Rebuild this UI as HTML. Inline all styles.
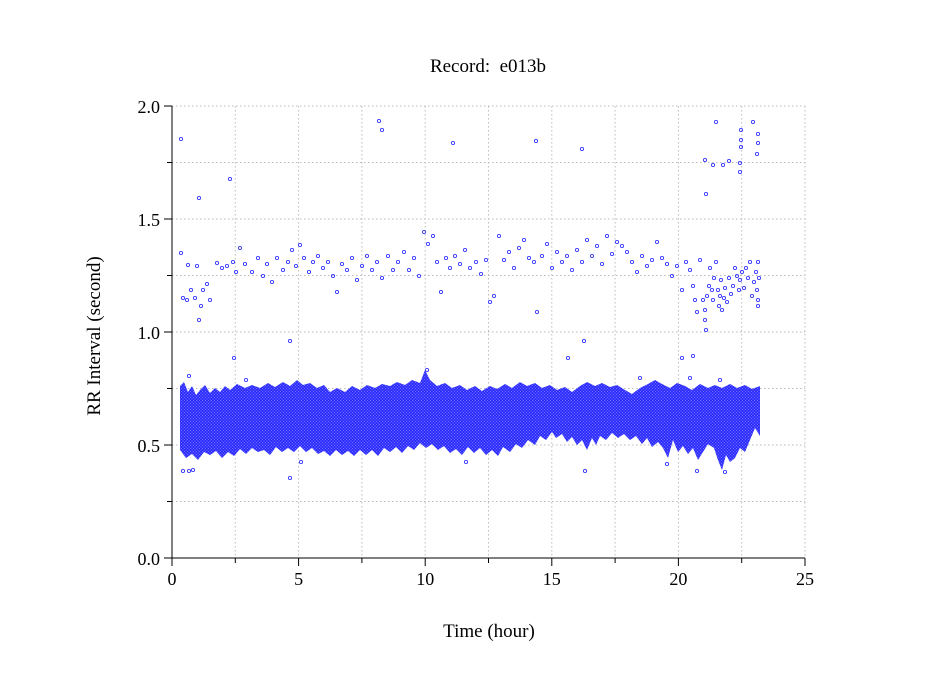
<!DOCTYPE html>
<html><head><meta charset="utf-8"><style>
html,body{margin:0;padding:0;background:#fff;}
svg{display:block;font-family:"Liberation Serif",serif;}
</style></head><body>
<svg width="949" height="697" xmlns="http://www.w3.org/2000/svg">
<defs>
<pattern id="dots" width="3" height="3" patternUnits="userSpaceOnUse">
<rect width="3" height="3" fill="#7272ff"/>
<circle cx="1.5" cy="1.5" r="1.1" fill="none" stroke="#2525ff" stroke-width="0.9"/>
</pattern>
</defs>
<rect width="949" height="697" fill="#fff"/>
<g stroke="#bbb" stroke-width="1" stroke-dasharray="1.5,2.5" fill="none">
<line x1="235.3" y1="106" x2="235.3" y2="558"/><line x1="298.6" y1="106" x2="298.6" y2="558"/>
<line x1="361.9" y1="106" x2="361.9" y2="558"/><line x1="425.2" y1="106" x2="425.2" y2="558"/>
<line x1="488.5" y1="106" x2="488.5" y2="558"/><line x1="551.8" y1="106" x2="551.8" y2="558"/>
<line x1="615.1" y1="106" x2="615.1" y2="558"/><line x1="678.4" y1="106" x2="678.4" y2="558"/>
<line x1="741.7" y1="106" x2="741.7" y2="558"/><line x1="805" y1="106" x2="805" y2="558"/>
<line x1="172" y1="106" x2="805" y2="106"/><line x1="172" y1="162.5" x2="805" y2="162.5"/>
<line x1="172" y1="219" x2="805" y2="219"/><line x1="172" y1="275.5" x2="805" y2="275.5"/>
<line x1="172" y1="332" x2="805" y2="332"/><line x1="172" y1="388.5" x2="805" y2="388.5"/>
<line x1="172" y1="445" x2="805" y2="445"/><line x1="172" y1="501.5" x2="805" y2="501.5"/>
</g>
<path fill="url(#dots)" d="M180,386 L184,382 L188,392 L192,386 L196,395 L200,390 L205,385 L210,393 L215,388 L220,392 L225,386 L230,390 L237,384 L245,388 L252,385 L260,388 L268,383 L275,387 L283,382 L290,386 L297,380 L303,385 L310,383 L317,388 L324,385 L330,392 L337,388 L345,392 L352,386 L360,390 L367,385 L375,388 L382,384 L390,386 L397,382 L405,385 L412,380 L420,383 L425,370 L430,380 L437,386 L445,383 L452,388 L460,385 L467,390 L475,386 L482,391 L490,386 L497,389 L505,384 L512,388 L520,382 L527,386 L535,383 L542,388 L550,385 L557,390 L565,387 L572,392 L580,386 L587,382 L595,386 L602,383 L610,387 L617,385 L625,390 L632,394 L640,388 L648,384 L655,380 L662,384 L670,388 L677,383 L685,386 L692,390 L700,384 L708,388 L715,385 L722,388 L730,384 L737,388 L745,385 L752,389 L760,386
L760,436 L755,428 L750,440 L745,452 L740,448 L735,458 L730,462 L726,455 L722,470 L718,460 L714,448 L708,444 L703,452 L698,460 L693,448 L688,454 L683,446 L678,452 L673,440 L668,458 L663,448 L658,442 L652,447 L647,438 L642,444 L636,436 L630,440 L624,434 L618,438 L612,433 L606,440 L600,436 L596,445 L592,438 L587,450 L582,440 L577,445 L572,437 L567,442 L562,434 L556,438 L552,432 L546,440 L540,436 L535,445 L528,440 L522,448 L516,444 L510,452 L503,447 L498,456 L492,450 L486,455 L480,448 L474,453 L468,447 L462,455 L456,449 L450,453 L444,446 L438,450 L432,444 L426,448 L420,443 L414,450 L408,446 L402,453 L396,447 L390,452 L384,448 L378,456 L372,450 L366,455 L360,450 L354,456 L348,451 L342,455 L336,450 L330,456 L324,451 L318,454 L312,448 L306,452 L300,446 L294,452 L288,448 L282,452 L276,447 L270,455 L264,450 L258,452 L252,448 L246,454 L240,449 L234,456 L228,452 L222,458 L216,451 L210,455 L204,452 L198,460 L192,454 L186,458 L180,450 Z"/>
<g fill="none" stroke="#3838ff" stroke-width="0.9">
<circle cx="181" cy="139" r="1.6"/><circle cx="199" cy="198" r="1.6"/><circle cx="230" cy="179" r="1.6"/><circle cx="379" cy="121" r="1.6"/><circle cx="382" cy="130" r="1.6"/><circle cx="453" cy="143" r="1.6"/><circle cx="536" cy="141" r="1.6"/><circle cx="582" cy="149" r="1.6"/>
<circle cx="705" cy="160" r="1.6"/><circle cx="706" cy="194" r="1.6"/><circle cx="716" cy="122" r="1.6"/><circle cx="741" cy="130" r="1.6"/><circle cx="741" cy="140" r="1.6"/><circle cx="741" cy="147" r="1.6"/><circle cx="740" cy="163" r="1.6"/><circle cx="740" cy="172" r="1.6"/><circle cx="753" cy="122" r="1.6"/><circle cx="758" cy="134" r="1.6"/><circle cx="758" cy="143" r="1.6"/><circle cx="757" cy="154" r="1.6"/><circle cx="723" cy="165" r="1.6"/><circle cx="729" cy="161" r="1.6"/><circle cx="713" cy="165" r="1.6"/>
<circle cx="181" cy="253" r="1.6"/><circle cx="183" cy="298" r="1.6"/><circle cx="187" cy="300" r="1.6"/><circle cx="188" cy="265" r="1.6"/><circle cx="191" cy="290" r="1.6"/><circle cx="195" cy="298" r="1.6"/><circle cx="197" cy="266" r="1.6"/><circle cx="199" cy="320" r="1.6"/><circle cx="201" cy="306" r="1.6"/><circle cx="203" cy="290" r="1.6"/><circle cx="207" cy="284" r="1.6"/><circle cx="210" cy="300" r="1.6"/><circle cx="217" cy="263" r="1.6"/><circle cx="222" cy="268" r="1.6"/><circle cx="227" cy="266" r="1.6"/><circle cx="233" cy="262" r="1.6"/><circle cx="236" cy="272" r="1.6"/><circle cx="240" cy="248" r="1.6"/><circle cx="245" cy="264" r="1.6"/><circle cx="252" cy="272" r="1.6"/><circle cx="258" cy="258" r="1.6"/><circle cx="263" cy="276" r="1.6"/><circle cx="267" cy="264" r="1.6"/><circle cx="272" cy="282" r="1.6"/><circle cx="277" cy="258" r="1.6"/><circle cx="283" cy="270" r="1.6"/><circle cx="288" cy="262" r="1.6"/><circle cx="292" cy="250" r="1.6"/><circle cx="296" cy="266" r="1.6"/><circle cx="300" cy="245" r="1.6"/><circle cx="304" cy="258" r="1.6"/><circle cx="309" cy="272" r="1.6"/><circle cx="313" cy="262" r="1.6"/><circle cx="318" cy="256" r="1.6"/><circle cx="323" cy="268" r="1.6"/><circle cx="328" cy="262" r="1.6"/><circle cx="333" cy="276" r="1.6"/><circle cx="337" cy="292" r="1.6"/><circle cx="342" cy="264" r="1.6"/><circle cx="347" cy="270" r="1.6"/><circle cx="352" cy="258" r="1.6"/><circle cx="357" cy="280" r="1.6"/><circle cx="362" cy="266" r="1.6"/><circle cx="367" cy="256" r="1.6"/><circle cx="372" cy="270" r="1.6"/><circle cx="377" cy="262" r="1.6"/><circle cx="382" cy="278" r="1.6"/><circle cx="388" cy="256" r="1.6"/><circle cx="393" cy="270" r="1.6"/><circle cx="398" cy="262" r="1.6"/><circle cx="404" cy="252" r="1.6"/><circle cx="409" cy="270" r="1.6"/><circle cx="414" cy="258" r="1.6"/><circle cx="419" cy="276" r="1.6"/><circle cx="424" cy="232" r="1.6"/><circle cx="428" cy="244" r="1.6"/><circle cx="433" cy="236" r="1.6"/><circle cx="437" cy="262" r="1.6"/><circle cx="441" cy="292" r="1.6"/><circle cx="446" cy="258" r="1.6"/><circle cx="450" cy="268" r="1.6"/><circle cx="455" cy="256" r="1.6"/><circle cx="460" cy="264" r="1.6"/><circle cx="465" cy="250" r="1.6"/><circle cx="470" cy="268" r="1.6"/><circle cx="476" cy="262" r="1.6"/><circle cx="481" cy="274" r="1.6"/><circle cx="486" cy="260" r="1.6"/><circle cx="490" cy="302" r="1.6"/><circle cx="494" cy="296" r="1.6"/><circle cx="499" cy="236" r="1.6"/><circle cx="504" cy="260" r="1.6"/><circle cx="509" cy="252" r="1.6"/><circle cx="514" cy="268" r="1.6"/><circle cx="519" cy="248" r="1.6"/><circle cx="524" cy="240" r="1.6"/><circle cx="529" cy="258" r="1.6"/><circle cx="534" cy="262" r="1.6"/><circle cx="537" cy="312" r="1.6"/><circle cx="542" cy="256" r="1.6"/><circle cx="547" cy="244" r="1.6"/><circle cx="552" cy="268" r="1.6"/><circle cx="557" cy="252" r="1.6"/><circle cx="562" cy="262" r="1.6"/><circle cx="567" cy="256" r="1.6"/><circle cx="572" cy="270" r="1.6"/><circle cx="577" cy="250" r="1.6"/><circle cx="582" cy="262" r="1.6"/><circle cx="587" cy="240" r="1.6"/><circle cx="592" cy="256" r="1.6"/><circle cx="597" cy="246" r="1.6"/><circle cx="602" cy="264" r="1.6"/><circle cx="607" cy="236" r="1.6"/><circle cx="612" cy="254" r="1.6"/><circle cx="617" cy="242" r="1.6"/><circle cx="622" cy="246" r="1.6"/><circle cx="627" cy="252" r="1.6"/><circle cx="632" cy="262" r="1.6"/><circle cx="637" cy="272" r="1.6"/><circle cx="642" cy="256" r="1.6"/><circle cx="647" cy="266" r="1.6"/><circle cx="652" cy="260" r="1.6"/><circle cx="657" cy="242" r="1.6"/><circle cx="662" cy="258" r="1.6"/><circle cx="667" cy="264" r="1.6"/><circle cx="672" cy="276" r="1.6"/><circle cx="677" cy="266" r="1.6"/><circle cx="682" cy="290" r="1.6"/><circle cx="686" cy="262" r="1.6"/>
<circle cx="690" cy="270" r="1.6"/><circle cx="693" cy="286" r="1.6"/><circle cx="695" cy="300" r="1.6"/><circle cx="697" cy="312" r="1.6"/><circle cx="700" cy="260" r="1.6"/><circle cx="703" cy="300" r="1.6"/><circle cx="705" cy="320" r="1.6"/><circle cx="705" cy="310" r="1.6"/><circle cx="706" cy="330" r="1.6"/><circle cx="707" cy="296" r="1.6"/><circle cx="709" cy="286" r="1.6"/><circle cx="710" cy="268" r="1.6"/><circle cx="712" cy="290" r="1.6"/><circle cx="713" cy="300" r="1.6"/><circle cx="714" cy="278" r="1.6"/><circle cx="716" cy="262" r="1.6"/><circle cx="718" cy="290" r="1.6"/><circle cx="719" cy="306" r="1.6"/><circle cx="720" cy="296" r="1.6"/><circle cx="721" cy="280" r="1.6"/><circle cx="722" cy="310" r="1.6"/><circle cx="724" cy="298" r="1.6"/><circle cx="725" cy="288" r="1.6"/><circle cx="727" cy="302" r="1.6"/><circle cx="729" cy="278" r="1.6"/><circle cx="731" cy="294" r="1.6"/><circle cx="733" cy="286" r="1.6"/><circle cx="735" cy="268" r="1.6"/><circle cx="737" cy="276" r="1.6"/><circle cx="739" cy="290" r="1.6"/><circle cx="740" cy="280" r="1.6"/><circle cx="742" cy="272" r="1.6"/><circle cx="744" cy="288" r="1.6"/><circle cx="746" cy="268" r="1.6"/><circle cx="748" cy="278" r="1.6"/><circle cx="750" cy="262" r="1.6"/><circle cx="752" cy="296" r="1.6"/><circle cx="754" cy="282" r="1.6"/><circle cx="756" cy="272" r="1.6"/><circle cx="757" cy="290" r="1.6"/><circle cx="758" cy="262" r="1.6"/><circle cx="758" cy="300" r="1.6"/><circle cx="758" cy="306" r="1.6"/><circle cx="759" cy="278" r="1.6"/>
<circle cx="183" cy="471" r="1.6"/><circle cx="189" cy="471" r="1.6"/><circle cx="193" cy="470" r="1.6"/><circle cx="290" cy="478" r="1.6"/><circle cx="301" cy="462" r="1.6"/><circle cx="234" cy="358" r="1.6"/><circle cx="290" cy="341" r="1.6"/><circle cx="466" cy="462" r="1.6"/><circle cx="585" cy="471" r="1.6"/><circle cx="697" cy="471" r="1.6"/><circle cx="725" cy="472" r="1.6"/><circle cx="568" cy="358" r="1.6"/><circle cx="584" cy="341" r="1.6"/><circle cx="682" cy="358" r="1.6"/><circle cx="693" cy="356" r="1.6"/><circle cx="667" cy="464" r="1.6"/>
<circle cx="189" cy="376" r="1.6"/><circle cx="246" cy="380" r="1.6"/><circle cx="427" cy="370" r="1.6"/><circle cx="690" cy="378" r="1.6"/><circle cx="640" cy="378" r="1.6"/><circle cx="720" cy="380" r="1.6"/>
</g>
<g stroke="#000" stroke-width="1">
<line x1="172" y1="106" x2="172" y2="558"/><line x1="172" y1="558" x2="805" y2="558"/>
<line x1="172" y1="558" x2="172" y2="566"/><line x1="235.3" y1="558" x2="235.3" y2="563"/>
<line x1="298.6" y1="558" x2="298.6" y2="566"/><line x1="361.9" y1="558" x2="361.9" y2="563"/>
<line x1="425.2" y1="558" x2="425.2" y2="566"/><line x1="488.5" y1="558" x2="488.5" y2="563"/>
<line x1="551.8" y1="558" x2="551.8" y2="566"/><line x1="615.1" y1="558" x2="615.1" y2="563"/>
<line x1="678.4" y1="558" x2="678.4" y2="566"/><line x1="741.7" y1="558" x2="741.7" y2="563"/>
<line x1="805" y1="558" x2="805" y2="566"/>
<line x1="164" y1="106" x2="172" y2="106"/><line x1="167" y1="162.5" x2="172" y2="162.5"/>
<line x1="164" y1="219" x2="172" y2="219"/><line x1="167" y1="275.5" x2="172" y2="275.5"/>
<line x1="164" y1="332" x2="172" y2="332"/><line x1="167" y1="388.5" x2="172" y2="388.5"/>
<line x1="164" y1="445" x2="172" y2="445"/><line x1="167" y1="501.5" x2="172" y2="501.5"/>
<line x1="164" y1="558" x2="172" y2="558"/>
</g>
<g font-size="18" fill="#000">
<g text-anchor="middle">
<text x="172" y="585">0</text><text x="298.6" y="585">5</text><text x="425.2" y="585">10</text>
<text x="551.8" y="585">15</text><text x="678.4" y="585">20</text><text x="805" y="585">25</text>
<text x="488" y="72" font-size="19" xml:space="preserve">Record:  e013b</text>
<text x="489" y="637" font-size="19">Time (hour)</text>
</g>
<g text-anchor="end">
<text x="160" y="113">2.0</text><text x="160" y="226">1.5</text><text x="160" y="339">1.0</text>
<text x="160" y="452">0.5</text><text x="160" y="565">0.0</text>
</g>
<text transform="translate(100,336) rotate(-90)" text-anchor="middle" font-size="19">RR Interval (second)</text>
</g>
</svg>
</body></html>
